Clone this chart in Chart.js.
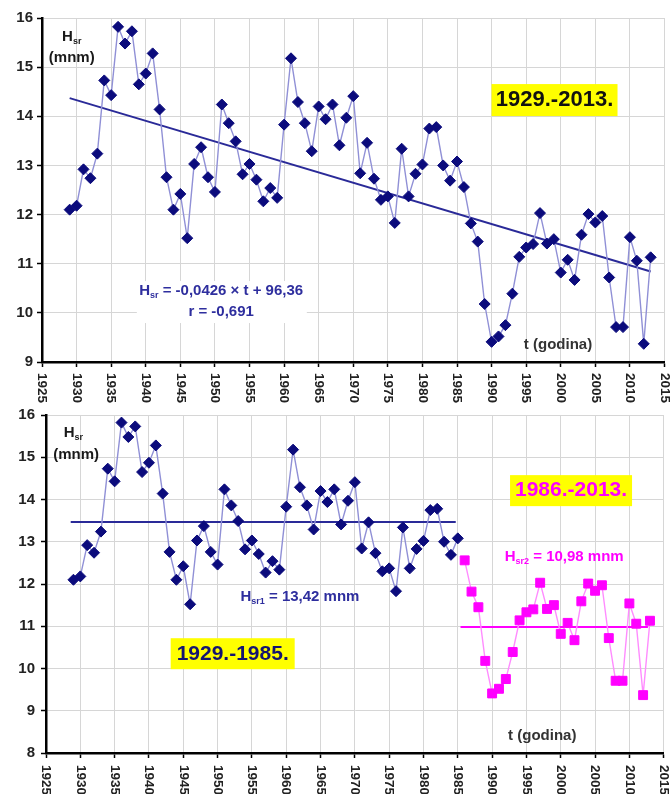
<!DOCTYPE html>
<html>
<head>
<meta charset="utf-8">
<script src="https://cdn.jsdelivr.net/npm/chart.js@4.4.1/dist/chart.umd.min.js"></script>
<style>
html, body { margin: 0; padding: 0; background: #fff; }
#wrap { position: relative; width: 671px; height: 794px; overflow: hidden; }
#top_chart { position: absolute; left: 0; top: 0; }
#bottom_chart { position: absolute; left: 0; top: 400px; }
</style>
</head>
<body>
<div id="wrap">
  <canvas id="top_chart" width="671" height="405"></canvas>
  <canvas id="bottom_chart" width="671" height="394"></canvas>
</div>
<script>
// values: mean water level H_sr (m n.m.) per year
const years = [
    1929, 1930, 1931, 1932, 1933, 1934, 1935, 1936, 1937, 1938,
    1939, 1940, 1941, 1942, 1943, 1944, 1945, 1946, 1947, 1948,
    1949, 1950, 1951, 1952, 1953, 1954, 1955, 1956, 1957, 1958,
    1959, 1960, 1961, 1962, 1963, 1964, 1965, 1966, 1967, 1968,
    1969, 1970, 1971, 1972, 1973, 1974, 1975, 1976, 1977, 1978,
    1979, 1980, 1981, 1982, 1983, 1984, 1985, 1986, 1987, 1988,
    1989, 1990, 1991, 1992, 1993, 1994, 1995, 1996, 1997, 1998,
    1999, 2000, 2001, 2002, 2003, 2004, 2005, 2006, 2007, 2008,
    2009, 2010, 2011, 2012, 2013
];
const hsr = [
    12.10, 12.18, 12.92, 12.74, 13.24, 14.73, 14.43, 15.82, 15.48, 15.73,
    14.65, 14.87, 15.28, 14.14, 12.76, 12.10, 12.42, 11.52, 13.03, 13.37,
    12.76, 12.46, 14.24, 13.86, 13.49, 12.82, 13.03, 12.71, 12.27, 12.54,
    12.34, 13.83, 15.18, 14.29, 13.86, 13.29, 14.20, 13.94, 14.24, 13.41,
    13.97, 14.41, 12.84, 13.46, 12.73, 12.30, 12.37, 11.83, 13.34, 12.37,
    12.83, 13.02, 13.75, 13.78, 13.00, 12.69, 13.08, 12.56, 11.82, 11.45,
    10.18, 9.41, 9.52, 9.75, 10.39, 11.14, 11.33, 11.40, 12.03, 11.41,
    11.50, 10.82, 11.08, 10.67, 11.59, 12.01, 11.84, 11.97, 10.72, 9.71,
    9.71, 11.54, 11.06, 9.37, 11.13
];
const split_year = 1986;

// linear trend drawn in the top panel (end points as read)
const trend_years = [1929, 2013];
const trend_values = [14.37, 10.84];

// period means drawn in the bottom panel
const mean1_years = [1928.6, 1984.7];
const mean1_values = [13.47, 13.47];
const mean2_years = [1985.4, 2012.7];
const mean2_values = [10.98, 10.98];

const year_ticks = [1925, 1930, 1935, 1940, 1945, 1950, 1955, 1960, 1965, 1970,
                    1975, 1980, 1985, 1990, 1995, 2000, 2005, 2010, 2015];
const top_value_ticks = [9, 10, 11, 12, 13, 14, 15, 16];
const bottom_value_ticks = [8, 9, 10, 11, 12, 13, 14, 15, 16];

const FONT = '"Liberation Sans", Arial, Helvetica, sans-serif';
const NAVY = '#0b0b7c';
const LAVENDER = '#9090d6';
const TREND = '#2a2a98';
const MAGENTA = '#ff00ff';
const PINK_LINE = '#ff8cff';


function to_points(xs, ys){
    const pts = [];
    for (let i = 0; i < xs.length; i++){
        pts.push({x: xs[i], y: ys[i]});
    }
    return pts;
}


function draw_rich(ctx, parts, cx, cy, size, color){
    // parts: [text, is_subscript]
    const sub_size = Math.round(size * 0.6);
    let total = 0;
    for (const p of parts){
        ctx.font = 'bold ' + (p[1] ? sub_size : size) + 'px ' + FONT;
        total += ctx.measureText(p[0]).width;
    }
    let x = cx - total / 2;
    ctx.fillStyle = color;
    ctx.textAlign = 'left';
    ctx.textBaseline = 'middle';
    for (const p of parts){
        ctx.font = 'bold ' + (p[1] ? sub_size : size) + 'px ' + FONT;
        ctx.fillText(p[0], x, p[1] ? cy + size * 0.3 : cy);
        x += ctx.measureText(p[0]).width;
    }
}


function make_annotation_plugin(notes){
    return {
        id: 'notes',
        afterDatasetsDraw(chart){
            const ctx = chart.ctx;
            const xs = chart.scales.x;
            const ys = chart.scales.y;
            ctx.save();
            for (const n of notes){
                const cx = xs.getPixelForValue(n.x);
                const cy = ys.getPixelForValue(n.y);
                if (n.box){
                    ctx.fillStyle = n.box[2];
                    ctx.fillRect(cx - n.box[0] / 2, cy - n.box[1] / 2, n.box[0], n.box[1]);
                }
                if (n.parts){
                    draw_rich(ctx, n.parts, cx, cy, n.size, n.color);
                }
            }
            ctx.restore();
        }
    };
}


const year_labels = {
    id: 'year_labels',
    afterDraw(chart){
        const s = chart.scales.x;
        const ctx = chart.ctx;
        const offset = chart.options.plugins.year_labels.offset;
        ctx.save();
        ctx.fillStyle = '#222';
        ctx.font = 'bold 13.5px ' + FONT;
        ctx.textAlign = 'left';
        ctx.textBaseline = 'middle';
        for (const t of s.ticks){
            ctx.save();
            ctx.translate(s.getPixelForValue(t.value), s.top + offset);
            ctx.rotate(Math.PI / 2);
            ctx.fillText(String(t.value), 0, 0);
            ctx.restore();
        }
        ctx.restore();
    }
};


function make_scales(y_min, y_max, value_ticks, y_width, x_height, tick_pad){
    const grid = {
        color: '#d6d6d6',
        lineWidth: 1,
        tickLength: 5,
        tickColor: '#000',
        tickWidth: 1.5
    };
    return {
        x: {
            type: 'linear',
            min: 1925,
            max: 2015,
            afterBuildTicks: s => { s.ticks = year_ticks.map(v => ({value: v})); },
            afterFit: s => { s.height = x_height; },
            ticks: {display: false},
            grid: grid,
            border: {color: '#000', width: 2.5}
        },
        y: {
            type: 'linear',
            min: y_min,
            max: y_max,
            afterBuildTicks: s => { s.ticks = value_ticks.map(v => ({value: v})); },
            afterFit: s => { s.width = y_width; },
            ticks: {
                color: '#222',
                padding: tick_pad,
                font: {family: FONT, size: 15, weight: 'bold'}
            },
            grid: grid,
            border: {color: '#000', width: 2.5}
        }
    };
}


function plot_top(){
    const ctx = document.getElementById('top_chart').getContext('2d');
    const data = {
        datasets: [
            {
                label: 'Hsr 1929-2013',
                data: to_points(years, hsr),
                borderColor: LAVENDER,
                borderWidth: 1.4,
                pointStyle: 'rectRot',
                pointRadius: 5.5,
                pointBackgroundColor: NAVY,
                pointBorderColor: NAVY,
                pointBorderWidth: 1,
                tension: 0,
                order: 0
            },
            {
                label: 'trend',
                data: to_points(trend_years, trend_values),
                borderColor: TREND,
                borderWidth: 2,
                pointRadius: 0,
                tension: 0,
                order: 1
            }
        ]
    };
    const notes = [
        {x: 1929.3, y: 15.61, parts: [['H', 0], ['sr', 1]], size: 15, color: '#1a1a1a'},
        {x: 1929.3, y: 15.18, parts: [['(mnm)', 0]], size: 15, color: '#1a1a1a'},
        {x: 1999.1, y: 14.33, parts: [['1929.-2013.', 0]], size: 22, color: '#111',
         box: [126, 32, '#ffff00']},
        {x: 1951.0, y: 10.22, box: [170, 42, '#ffffff']},
        {x: 1950.9, y: 10.45, parts: [['H', 0], ['sr', 1], [' = -0,0426 \u00d7 t + 96,36', 0]],
         size: 15, color: '#2e2e9e'},
        {x: 1950.9, y: 10.02, parts: [['r = -0,691', 0]], size: 15, color: '#2e2e9e'},
        {x: 1999.6, y: 9.35, parts: [['t (godina)', 0]], size: 15, color: '#333'}
    ];
    return new Chart(ctx, {
        type: 'line',
        data: data,
        options: {
            responsive: false,
            animation: false,
            devicePixelRatio: 1,
            layout: {padding: {top: 18, right: 3, left: 0, bottom: 0}},
            scales: make_scales(9, 16, top_value_ticks, 42, 43, 4),
            plugins: {
                legend: {display: false},
                tooltip: {enabled: false},
                year_labels: {offset: 11}
            }
        },
        plugins: [make_annotation_plugin(notes), year_labels]
    });
}


function plot_bottom(){
    const ctx = document.getElementById('bottom_chart').getContext('2d');
    const first_years = years.filter(y => y < split_year);
    const first_vals = hsr.filter((v, i) => years[i] < split_year);
    const second_years = years.filter(y => y >= split_year);
    const second_vals = hsr.filter((v, i) => years[i] >= split_year);

    const data = {
        datasets: [
            {
                label: '1929-1985',
                data: to_points(first_years, first_vals),
                borderColor: LAVENDER,
                borderWidth: 1.4,
                pointStyle: 'rectRot',
                pointRadius: 5.5,
                pointBackgroundColor: NAVY,
                pointBorderColor: NAVY,
                pointBorderWidth: 1,
                tension: 0,
                order: 0
            },
            {
                label: '1986-2013',
                data: to_points(second_years, second_vals),
                borderColor: PINK_LINE,
                borderWidth: 1.4,
                pointStyle: 'rect',
                pointRadius: 6.3,
                pointBackgroundColor: MAGENTA,
                pointBorderColor: MAGENTA,
                pointBorderWidth: 1,
                tension: 0,
                order: 0
            },
            {
                label: 'mean 1',
                data: to_points(mean1_years, mean1_values),
                borderColor: TREND,
                borderWidth: 2,
                pointRadius: 0,
                tension: 0,
                order: 1
            },
            {
                label: 'mean 2',
                data: to_points(mean2_years, mean2_values),
                borderColor: MAGENTA,
                borderWidth: 2,
                pointRadius: 0,
                tension: 0,
                order: 1
            }
        ]
    };
    const notes = [
        {x: 1929.0, y: 15.58, parts: [['H', 0], ['sr', 1]], size: 15, color: '#1a1a1a'},
        {x: 1929.4, y: 15.06, parts: [['(mnm)', 0]], size: 15, color: '#1a1a1a'},
        {x: 2001.5, y: 14.21, parts: [['1986.-2013.', 0]], size: 21, color: MAGENTA,
         box: [122, 31, '#ffff00']},
        {x: 2000.5, y: 12.65, parts: [['H', 0], ['sr2', 1], [' = 10,98 mnm', 0]],
         size: 15, color: MAGENTA},
        {x: 1962.0, y: 11.70, parts: [['H', 0], ['sr1', 1], [' = 13,42 mnm', 0]],
         size: 15, color: '#2e2e9e'},
        {x: 1952.2, y: 10.35, parts: [['1929.-1985.', 0]], size: 21, color: '#141470',
         box: [124, 31, '#ffff00']},
        {x: 1997.3, y: 8.40, parts: [['t (godina)', 0]], size: 15, color: '#333'}
    ];
    return new Chart(ctx, {
        type: 'line',
        data: data,
        options: {
            responsive: false,
            animation: false,
            devicePixelRatio: 1,
            layout: {padding: {top: 11, right: 0, left: 0, bottom: 0}},
            scales: make_scales(8, 16, bottom_value_ticks, 46, 41, 6),
            plugins: {
                legend: {display: false},
                tooltip: {enabled: false},
                year_labels: {offset: 12}
            }
        },
        plugins: [make_annotation_plugin(notes), year_labels]
    });
}

plot_top();
plot_bottom();
</script>
</body>
</html>
